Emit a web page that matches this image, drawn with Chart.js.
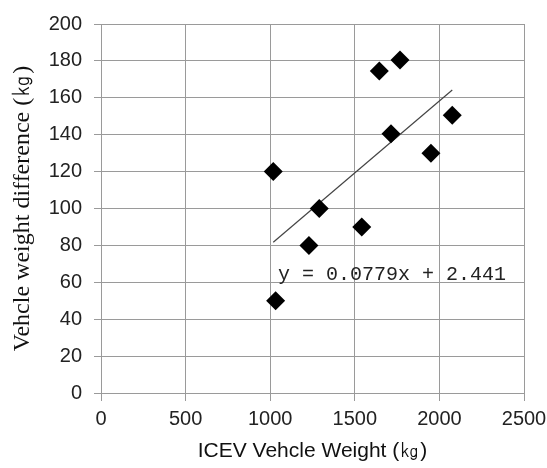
<!DOCTYPE html>
<html>
<head>
<meta charset="utf-8">
<script src="https://cdn.jsdelivr.net/npm/chart.js@4.4.1/dist/chart.umd.min.js"></script>
<style>
  html, body { margin: 0; padding: 0; background: #fff; }
  #wrap { width: 547px; height: 468px; }
</style>
</head>
<body>
<div id="wrap"><canvas id="c" width="547" height="468"></canvas></div>
<script>
// ---- data ----
const icevWeight = [1018, 1032, 1229, 1290, 1541, 1645, 1767, 1714, 1950, 2076];
const weightDiff = [120, 50, 80, 100, 90, 174.5, 180.5, 140.5, 130, 150.5];
const trendX = [1018, 2076];
const trendY = [81.7, 164.2];
const equationText = 'y = 0.0779x + 2.441';
const equationAt = [1046, 60];
const xTitle = 'ICEV Vehcle Weight (㎏)';
const yTitle = 'Vehcle weight difference (㎏)';

const points = icevWeight.map((x, i) => ({ x: x, y: weightDiff[i] }));
const trend = trendX.map((x, i) => ({ x: x, y: trendY[i] }));

const gridColor = '#9a9a9a';

const equationPlugin = {
  id: 'equation',
  afterDatasetsDraw(chart) {
    const ctx = chart.ctx;
    const xs = chart.scales.x, ys = chart.scales.y;
    ctx.save();
    ctx.font = '20px "Liberation Mono", monospace';
    ctx.fillStyle = '#222';
    ctx.textBaseline = 'alphabetic';
    ctx.textAlign = 'left';
    ctx.fillText(equationText, xs.getPixelForValue(equationAt[0]), ys.getPixelForValue(equationAt[1]) - 2);
    ctx.restore();
  }
};

new Chart(document.getElementById('c'), {
  type: 'scatter',
  data: {
    datasets: [
      {
        label: 'data',
        data: points,
        pointStyle: 'rectRot',
        pointRadius: 9.5,
        pointHoverRadius: 9.5,
        backgroundColor: '#000',
        borderColor: '#000',
        borderWidth: 0,
        order: 1
      },
      {
        label: 'trend',
        data: trend,
        showLine: true,
        pointRadius: 0,
        borderColor: '#444',
        borderWidth: 1.2,
        fill: false,
        order: 2
      }
    ]
  },
  options: {
    responsive: false,
    animation: false,
    events: [],
    layout: { padding: { left: 0, right: 23, top: 24, bottom: 0 } },
    plugins: { legend: { display: false }, tooltip: { enabled: false } },
    scales: {
      x: {
        type: 'linear',
        min: 0, max: 2500,
        afterFit(scale) { scale.height = 75; scale.paddingRight = 0; scale.paddingLeft = 0; },
        ticks: { stepSize: 500, padding: 6, color: '#222', callback: (v) => String(v), font: { family: '"Liberation Sans", sans-serif', size: 20 } },
        grid: { color: gridColor, lineWidth: 1, tickLength: 8, drawTicks: true },
        border: { color: gridColor, width: 1 },
        title: { display: true, text: xTitle, color: '#111', font: { family: '"Liberation Sans", sans-serif', size: 21 }, padding: { top: 0, bottom: 4 } }
      },
      y: {
        type: 'linear',
        min: 0, max: 200,
        afterFit(scale) { scale.width = 101; scale.paddingTop = 0; scale.paddingBottom = 0; },
        ticks: { stepSize: 20, padding: 12, color: '#222', callback: (v) => String(v), font: { family: '"Liberation Sans", sans-serif', size: 20 } },
        grid: { color: gridColor, lineWidth: 1, tickLength: 7, drawTicks: true },
        border: { color: gridColor, width: 1 },
        title: { display: true, text: yTitle, color: '#111', font: { family: '"Liberation Serif", serif', size: 24 }, padding: { top: 8, bottom: 0 } }
      }
    }
  },
  plugins: [equationPlugin]
});
</script>
</body>
</html>
